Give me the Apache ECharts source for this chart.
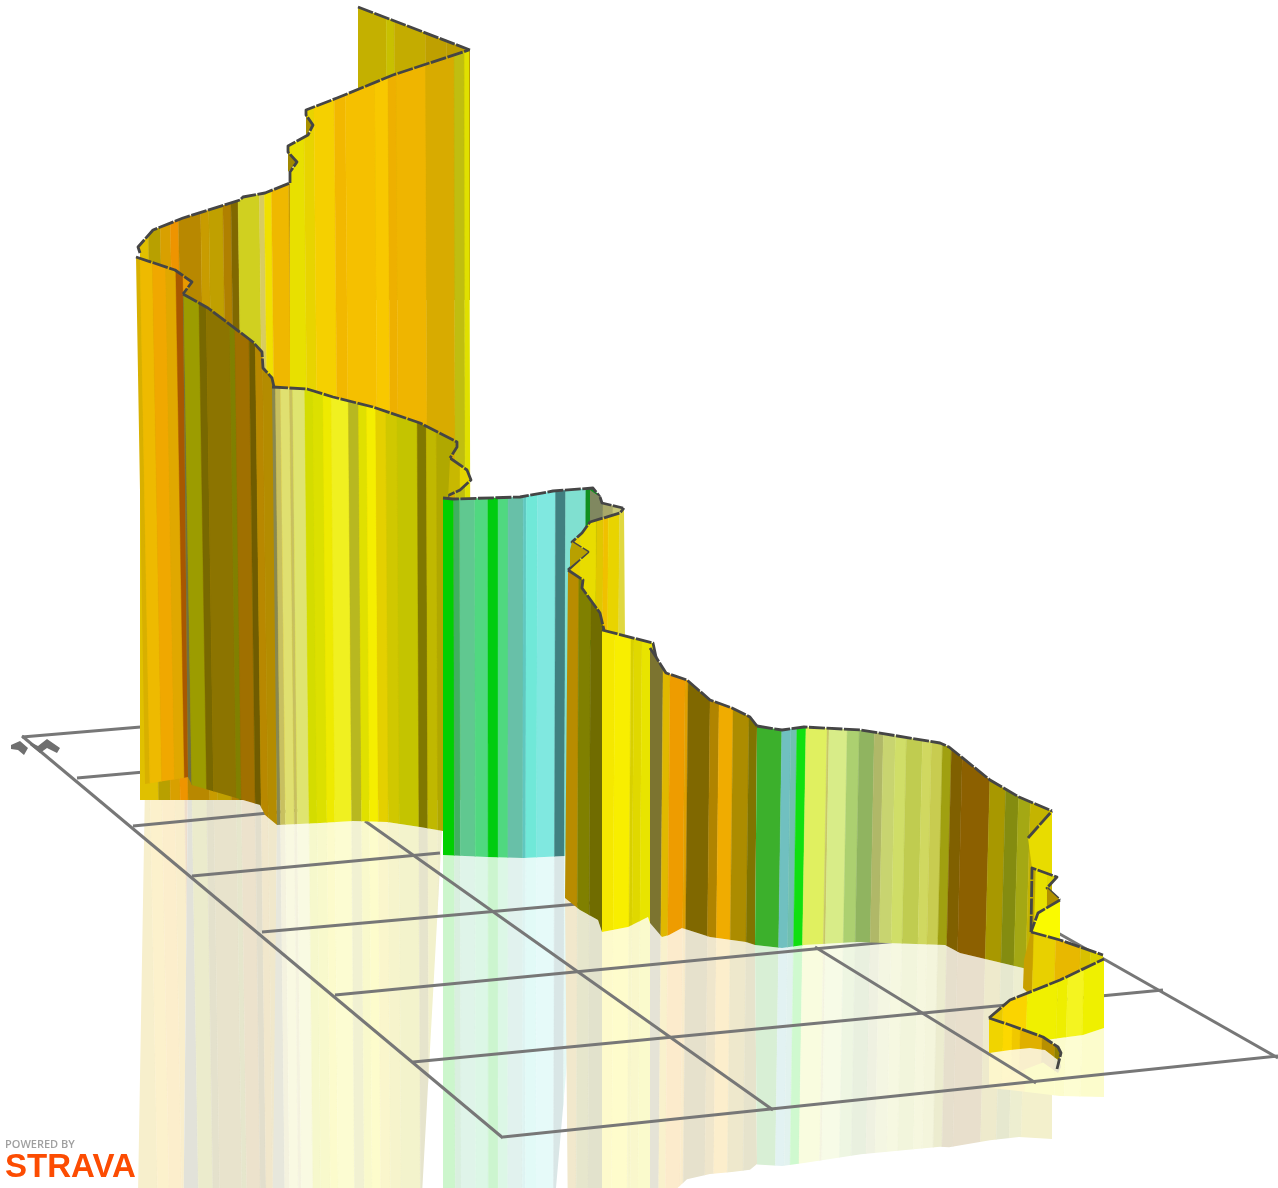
<!DOCTYPE html>
<html><head><meta charset="utf-8">
<style>html,body{margin:0;padding:0;background:#fff}#c{width:1278px;height:1188px;filter:blur(0.55px)}</style>
<script src="https://cdn.jsdelivr.net/npm/echarts@6/dist/echarts.min.js"></script>
</head><body><div id="c"></div><script>
// ---- ground grid ----
const gridAcross=[[22,737,200,722],[77,778,200,767],[133,826,300,810],[192,876,440,853],[262,932,600,902],[335,995,960,935],[413,1062,1163,990],[503,1137,1278,1056]];
const gridAlong=[[22,736,503,1138],[365,821,773,1110],[815,947,1036,1083],[1058,933,1278,1058]];
const markerShapes=[[[11,745],[20,741],[28,748],[24,755],[18,750],[11,749]],[[30,742],[38,746],[47,739],[60,748],[57,753],[47,748],[40,753],[30,745]]];

// ---- ribbon walls, back to front ----
const backTop=[[358,7],[470,50]],backBottom=[[470,300],[358,300]];
const backStops=[358,387,395,426,447],backColors=['#c4b000','#c8c000','#c4ac00','#bfa000','#bb9c00'];

const upperLeftTop=[[140,253],[138,247],[153,230],[183,218],[240,200],[243,197],[265,193],[290,183]],upperLeftBottom=[[292,800],[140,800]];
const upperLeftStops=[138,153,165,175,183,205,213,227,235,242,263,268,275,292];
const upperLeftColors=['#e0c000','#b8a000','#d8a000','#ee9400','#b88800','#c89c00','#c0a000','#b08000','#806800','#d0d020','#d8cc60','#f0e000','#efb800','#c8a000'];

const foldATop=[[288,146],[288,172],[297,162]],foldABottom=[[297,150]];
const foldAStops=[288],foldAColors=['#a08800'];
const foldBTop=[[306,112],[306,136],[313,125]],foldBBottom=[[313,115]];
const foldBStops=[306],foldBColors=['#a89000'];

const upperTop=[[290,183],[290,172],[297,162],[288,152],[288,146],[308,135],[313,125],[306,115],[306,110],[337,98],[393,75],[469,50]],upperBottom=[[471,800],[290,800]];
const upperStops=[288,307,317,337,348,377,390,398,427,455,465];
const upperColors=['#e8e000','#e8d400','#f5d000','#f2b800','#f5c000','#f8c800','#eeb000','#efb500','#d8ab00','#c0be10','#e0e000'];

const foldCTop=[[450,458],[467,470],[471,480],[460,490],[443,498]],foldCBottom=[[447,499]];
const foldCStops=[443,460],foldCColors=['#c8b800','#e4d400'];

const leftTop=[[136,257],[175,270],[192,282],[183,294]],leftBottom=[[188,777],[183,778],[145,784]];
const leftStops=[137,145,157,170,180,187],leftColors=['#d8b000','#eeba00','#f0a800','#e0a800','#a85800','#e89800'];

const oliveTop=[[183,294],[208,308],[253,342],[262,352],[263,368],[272,378],[274,387]],oliveBottom=[[277,825],[265,815],[260,805],[192,785],[188,777]];
const oliveStops=[183,188,203,210,233,238,252,258,265];
const oliveColors=['#707040','#9c9c00','#786800','#8c7400','#808000','#a07000','#705c00','#b88800','#b48c00'];

const yellowTop=[[272,387],[307,389],[333,397],[373,407],[420,423],[457,442],[457,447],[450,458]],yellowBottom=[[448,500],[443,831],[420,827],[387,822],[353,821],[320,823],[277,825]];
const yellowStops=[270,278,283,292,295,307,315,325,333,350,360,368,377,387,398,418,427,437];
const yellowColors=['#888850','#c8c060','#e0e070','#c8c060','#dfe470','#d4dc00','#dce000','#eeea00','#f0f020','#b8b820','#e0e000','#f5ee00','#e4d000','#d0c800','#c4c400','#807800','#c0b800','#b0a800'];

const tealTop=[[443,498],[453,499],[520,497],[553,491],[593,488],[600,497]],tealBottom=[[600,570],[565,856],[523,858],[487,857],[443,855]];
const tealStops=[443,454,460,475,488,498,508,523,526,537,555,565,585];
const tealColors=['#00d000','#40b060','#60c890','#50d880','#00cc10','#50d880','#68c0a8','#60c8c0','#70e8d8','#80e8e0','#408080','#80e0d0','#109020'];

const foldDTop=[[600,497],[602,503],[623,508]],foldDBottom=[[620,513],[590,522],[590,490]];
const foldDStops=[590,603,613],foldDColors=['#808860','#a8a868','#c8c878'];

const ledgeTop=[[568,570],[588,552],[572,542],[582,533],[590,522],[620,513],[624,508]],ledgeBottom=[[625,640],[568,640]];
const ledgeStops=[568,580,596,603,608,619],ledgeColors=['#e8d000','#e8dc00','#e0c800','#f0c000','#e8d400','#e0d840'];
const foldETop=[[572,542],[588,552],[570,567]],foldEBottom=[[570,550]];
const foldEStops=[568],foldEColors=['#b8a000'];

const stepTop=[[568,570],[583,580],[582,588],[600,613],[604,630]],stepBottom=[[602,932],[598,920],[580,910],[565,898]];
const stepStops=[565,578,590],stepColors=['#b88c00','#808000','#706c00'];

const paleTop=[[602,630],[653,643],[656,657]],paleBottom=[[650,923],[648,917],[628,927],[602,932]];
const paleStops=[601,614,630,633,641],paleColors=['#f5e800','#f8ee00','#d8d000','#e0d800','#e8e400'];

const brownTop=[[650,648],[656,657],[666,673],[687,680],[710,700],[732,708],[750,717],[757,726]],brownBottom=[[755,945],[746,942],[710,937],[682,928],[669,935],[662,937],[650,923]];
const brownStops=[650,662,669,684,687,709,718,732,748];
const brownColors=['#7c7430','#e0b800','#ee9c00','#e0a000','#806800','#b08400','#f0ac00','#ac8c00','#807400'];

const longTop=[[757,726],[782,730],[804,727],[861,730],[940,743],[949,747],[990,780],[1019,797],[1052,811]],longBottom=[[1052,975],[1023,968],[960,953],[945,945],[857,942],[804,945],[782,948],[755,945]];
const longStops=[755,780,789,795,804,825,827,845,857,872,881,893,904,920,929,940,949,960,988,1004,1017,1029];
const longColors=['#3cb02c','#70c0c0','#70c0b0','#10e010','#e0f060','#c8c868','#d8ec88','#acd070','#90b460','#b0b868','#c8d470','#d0de68','#c0cc50','#d0d860','#c8cc50','#a0a010','#806000','#8c6000','#a89800','#848c10','#a4a814','#c4b400'];

const tailATop=[[1028,838],[1052,811]],tailABottom=[[1052,874],[1032,868]];
const tailAStops=[1028],tailAColors=['#e8dc00'];
const tailBTop=[[1031,932],[1032,868],[1057,877],[1047,888],[1060,900]],tailBBottom=[[1060,905],[1040,930]];
const tailBStops=[1030,1035,1047],tailBColors=['#c0a800','#e8e000','#e0d800'];
const foldFTop=[[1047,888],[1060,900],[1047,908]],foldFBottom=[[1047,908]];
const foldFStops=[1047],foldFColors=['#b09000'];
const tailCTop=[[1060,900],[1038,913],[1031,932]],tailCBottom=[[1060,942]];
const tailCStops=[1031],tailCColors=['#fafa00'];

const curlBackTop=[[1031,932],[1060,940],[1103,955]],curlBackBottom=[[1104,975],[1030,995],[1023,988],[1024,960]];
const curlBackStops=[1023,1033,1055,1080,1090],curlBackColors=['#c8a000','#e8d000','#e8b800','#d8c000','#d8d000'];

const spiralTop=[[989,1018],[1010,1000],[1060,980],[1104,959]],spiralBottom=[[1104,1028],[1083,1035],[1060,1038],[1010,1045],[989,1053]];
const spiralStops=[989,1003,1027,1057,1067,1083],spiralColors=['#e8c800','#fad400','#f0f000','#eeee00','#f4f420','#eff000'];

const curlTop=[[989,1018],[1010,1025],[1043,1037],[1058,1047],[1061,1053],[1057,1069]],curlBottom=[[1058,1060],[1045,1050],[1030,1048],[1010,1050],[989,1053]];
const curlStops=[989,1003,1012,1020,1042,1055],curlColors=['#f0d400','#fcd800','#f0c800','#e0b000','#b89000','#908000'];

const wall=(top,bottom,stops,colors,mirror,ridge)=>({top,bottom,stops,colors,mirror:!!mirror,ridge:ridge!==false});
const walls=[
 wall(backTop,backBottom,backStops,backColors),
 wall(upperLeftTop,upperLeftBottom,upperLeftStops,upperLeftColors),
 wall(foldATop,foldABottom,foldAStops,foldAColors,false,false),
 wall(foldBTop,foldBBottom,foldBStops,foldBColors,false,false),
 wall(upperTop,upperBottom,upperStops,upperColors),
 wall(foldCTop,foldCBottom,foldCStops,foldCColors),
 wall(leftTop,leftBottom,leftStops,leftColors,true),
 wall(oliveTop,oliveBottom,oliveStops,oliveColors,true),
 wall(yellowTop,yellowBottom,yellowStops,yellowColors,true),
 wall(tealTop,tealBottom,tealStops,tealColors,true),
 wall(foldDTop,foldDBottom,foldDStops,foldDColors),
 wall(ledgeTop,ledgeBottom,ledgeStops,ledgeColors),
 wall(foldETop,foldEBottom,foldEStops,foldEColors,false,false),
 wall(stepTop,stepBottom,stepStops,stepColors,true),
 wall(paleTop,paleBottom,paleStops,paleColors,true),
 wall(brownTop,brownBottom,brownStops,brownColors,true),
 wall(longTop,longBottom,longStops,longColors,true),
 wall(tailATop,tailABottom,tailAStops,tailAColors),
 wall(tailBTop,tailBBottom,tailBStops,tailBColors),
 wall(foldFTop,foldFBottom,foldFStops,foldFColors,false,false),
 wall(tailCTop,tailCBottom,tailCStops,tailCColors),
 wall(curlBackTop,curlBackBottom,curlBackStops,curlBackColors,true),
 wall(spiralTop,spiralBottom,spiralStops,spiralColors,true),
 wall(curlTop,curlBottom,curlStops,curlColors,true)
];

const MIRROR_STRENGTH=0.2, VANISH_X=500, VANISH_DEPTH=19000;
function wash(hex){
  const n=parseInt(hex.slice(1),16),f=c=>Math.round(255-(255-c)*MIRROR_STRENGTH);
  return `rgb(${f(n>>16&255)},${f(n>>8&255)},${f(n&255)})`;
}
function bottomAt(line,x){
  if(line.length===1) return line[0][1];
  const pts=line.slice().sort((a,b)=>a[0]-b[0]);
  if(x<=pts[0][0]) return pts[0][1];
  for(let i=1;i<pts.length;i++) if(x<=pts[i][0]){
    const d=pts[i][0]-pts[i-1][0];
    return d?pts[i-1][1]+(pts[i][1]-pts[i-1][1])*(x-pts[i-1][0])/d:pts[i][1];
  }
  return pts[pts.length-1][1];
}
function strips(w,api,wrap){
  const ys=w.top.concat(w.bottom).map(p=>p[1]);
  const mid=(Math.min(...ys)+Math.max(...ys))/2;
  const lean=(x,y)=>x+(VANISH_X-x)*(y-mid)/VANISH_DEPTH;
  return w.stops.map((s,k)=>{
    const a=k===0?s-60:s, b=k===w.stops.length-1?s+120:w.stops[k+1];
    const y0=-300,y1=1600;
    const pts=[[lean(a,y0),y0],[lean(b,y0),y0],[lean(b,y1),y1],[lean(a,y1),y1]].map(p=>api.coord(p));
    return {type:'polygon',shape:{points:pts},style:{fill:wrap(w.colors[k]),stroke:wrap(w.colors[k]),lineWidth:0.4}};
  });
}
function renderWall(params,api){
  const w=walls[api.value(0)];
  const outline=w.top.concat(w.bottom).map(p=>api.coord(p));
  const kids=[{type:'group',clipPath:{type:'polygon',shape:{points:outline}},children:strips(w,api,c=>c)}];
  if(w.ridge) kids.push({type:'polyline',shape:{points:w.top.map(p=>api.coord(p))},
    style:{fill:null,stroke:'#454545',lineWidth:2.8,lineJoin:'round',lineDash:[16,1.5]}});
  return {type:'group',children:kids};
}
function renderMirror(params,api){
  const w=walls[api.value(0)];
  if(!w.mirror) return {type:'group',children:[]};
  const mirrored=w.top.map(p=>[p[0],2*bottomAt(w.bottom,p[0])-p[1]]);
  const outline=mirrored.concat(w.bottom).map(p=>api.coord(p));
  return {type:'group',clipPath:{type:'polygon',shape:{points:outline}},children:strips(w,api,wash)};
}
function renderSegment(params,api){
  const a=api.coord([api.value(0),api.value(1)]),b=api.coord([api.value(2),api.value(3)]);
  return {type:'line',shape:{x1:a[0],y1:a[1],x2:b[0],y2:b[1]},style:{stroke:'#777777',lineWidth:3}};
}
function renderMarker(params,api){
  const s=markerShapes[api.value(0)];
  return {type:'polygon',shape:{points:s.map(p=>api.coord(p))},style:{fill:'#6f6f6f'}};
}
const chart=echarts.init(document.getElementById('c'),null,{renderer:'canvas',width:1278,height:1188});
const wallIndex=walls.map((w,i)=>[i]);
chart.setOption({
  animation:false,backgroundColor:'#ffffff',
  grid:{left:0,right:0,top:0,bottom:0},
  xAxis:{type:'value',min:0,max:1278,show:false},
  yAxis:{type:'value',min:0,max:1188,inverse:true,show:false},
  tooltip:{show:false},
  series:[
   {type:'custom',name:'reflection',coordinateSystem:'cartesian2d',z:1,clip:true,silent:true,renderItem:renderMirror,data:wallIndex,encode:{x:[],y:[]}},
   {type:'custom',name:'ground',coordinateSystem:'cartesian2d',z:2,clip:true,silent:true,renderItem:renderSegment,data:gridAcross.concat(gridAlong),encode:{x:[0,2],y:[1,3]}},
   {type:'custom',name:'markers',coordinateSystem:'cartesian2d',z:2,silent:true,renderItem:renderMarker,data:markerShapes.map((s,i)=>[i]),encode:{x:[],y:[]}},
   {type:'custom',name:'ribbon',coordinateSystem:'cartesian2d',z:3,clip:true,silent:true,renderItem:renderWall,data:wallIndex,encode:{x:[],y:[]}}
  ],
  graphic:[
   {type:'text',left:5,top:1139,z:10,silent:true,style:{text:'POWERED BY',fill:'#a0a0a0',font:'600 11px "Open Sans","Liberation Sans",sans-serif',letterSpacing:0.8}},
   {type:'text',left:5,top:1151,z:10,silent:true,style:{text:'STRAVA',fill:'#fc4c02',font:'bold 33px "Liberation Sans",sans-serif'}}
  ]
});
</script></body></html>
